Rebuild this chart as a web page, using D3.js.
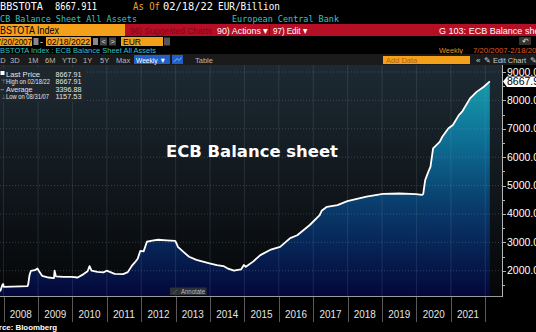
<!DOCTYPE html>
<html>
<head>
<meta charset="utf-8">
<script src="https://cdn.jsdelivr.net/npm/d3@7"></script>
<style>
body { margin: 0; background: #000; overflow: hidden; }
text { font-family: "Liberation Sans", Arial, sans-serif; }
</style>
</head>
<body>
<div id="chart"></div>
<script>
// weekly ECB balance sheet, EUR bn
const dates = [
  "2007-07-20", "2007-08-31", "2007-10-05", "2007-11-30", "2007-12-21", "2007-12-28",
  "2008-01-04", "2008-03-28", "2008-06-27", "2008-09-12", "2008-09-19", "2008-10-03", "2008-10-17", "2008-11-28", "2008-12-26",
  "2009-01-16", "2009-02-13", "2009-04-24", "2009-06-19", "2009-06-26", "2009-07-10", "2009-09-25", "2009-12-25",
  "2010-02-26", "2010-04-30", "2010-06-11", "2010-07-02", "2010-07-23", "2010-09-24", "2010-11-26", "2010-12-31",
  "2011-03-25", "2011-06-24", "2011-08-12", "2011-09-30", "2011-10-28", "2011-11-25", "2011-12-23",
  "2012-01-27", "2012-03-02", "2012-04-27", "2012-06-29", "2012-09-28", "2012-12-28",
  "2013-01-18", "2013-01-25", "2013-03-22", "2013-05-24", "2013-08-09", "2013-10-18", "2013-12-27",
  "2014-03-14", "2014-05-23", "2014-07-04", "2014-09-12", "2014-10-24", "2014-11-28", "2014-12-26",
  "2015-01-16", "2015-04-03", "2015-06-19", "2015-09-30",
  "2016-01-15", "2016-05-01", "2016-07-15", "2016-11-25",
  "2017-03-10", "2017-03-31", "2017-05-26", "2017-09-15", "2017-12-29",
  "2018-07-20", "2019-01-11", "2019-07-05", "2019-12-27",
  "2020-02-28", "2020-03-13", "2020-04-03", "2020-05-08", "2020-05-29", "2020-06-26", "2020-09-04", "2020-10-02", "2020-12-04",
  "2021-01-22", "2021-03-26", "2021-04-30", "2021-07-02", "2021-07-23", "2021-10-01", "2021-12-17",
  "2022-02-18"
]
const values = [
  1190, 1158, 1250, 1300, 1510, 1530,
  1430, 1440, 1450, 1460, 1520, 1850, 1990, 2020, 2080,
  1960, 1820, 1760, 1740, 2000, 1800, 1780, 1780,
  1760, 1880, 1980, 2160, 2000, 1960, 1940, 2000,
  1890, 1880, 1950, 2200, 2300, 2420, 2700,
  2680, 3020, 3060, 3090, 3070, 3050,
  2900, 2840, 2670, 2490, 2380, 2320, 2260,
  2200, 2165, 2085, 2000, 2030, 2050, 2200,
  2140, 2320, 2550, 2730,
  2840, 3150, 3250, 3610,
  3960, 4110, 4250, 4310, 4450,
  4610, 4710, 4720, 4700,
  4670, 4700, 5190, 5500, 5660, 6310, 6540, 6720, 7010,
  7130, 7480, 7600, 7950, 8070, 8300, 8480,
  8668
]
const yearLabels = ["2008", "2009", "2010", "2011", "2012", "2013", "2014", "2015", "2016", "2017", "2018", "2019", "2020", "2021"]
const yTicks = [2000, 3000, 4000, 5000, 6000, 7000, 8000, 9000]
const legendNames = ["Last Price", "High on 02/18/22", "Average", "Low on 08/31/07"]
const legendValues = ["8667.91", "8667.91", "3396.88", "1157.53"]
const lastPrice = 8667.91

const parse = d3.timeParse("%Y-%m-%d")
const data = dates.map((d, i) => ({ date: parse(d), value: values[i] }))

const svg = d3.select("#chart").append("svg").attr("width", 536).attr("height", 332)
const defs = svg.append("defs")

// plot background gradient
const bg = defs.append("linearGradient").attr("id", "bg").attr("gradientUnits", "userSpaceOnUse")
  .attr("x1", 0).attr("y1", 65).attr("x2", 0).attr("y2", 296)
bg.append("stop").attr("offset", 0).attr("stop-color", "#1d2a33")
bg.append("stop").attr("offset", 0.55).attr("stop-color", "#10161b")
bg.append("stop").attr("offset", 1).attr("stop-color", "#050607")

// area fill gradient
const fg = defs.append("linearGradient").attr("id", "fill").attr("gradientUnits", "userSpaceOnUse")
  .attr("x1", 0).attr("y1", 70).attr("x2", 0).attr("y2", 296)
fg.append("stop").attr("offset", 0).attr("stop-color", "#19a3b0")
fg.append("stop").attr("offset", 0.3).attr("stop-color", "#0e7196")
fg.append("stop").attr("offset", 0.6).attr("stop-color", "#093c6c")
fg.append("stop").attr("offset", 1).attr("stop-color", "#04073a")

defs.append("clipPath").attr("id", "plotclip").append("rect").attr("x", 0).attr("y", 65).attr("width", 502).attr("height", 231)

// helper for header text
function txt(x, y, s, fill, size, family, len, anchor) {
  const t = svg.append("text").attr("x", x).attr("y", y).text(s).attr("fill", fill)
    .style("font-size", size + "px").style("font-family", family || "'Liberation Sans', Arial, sans-serif")
  if (len) t.attr("textLength", len).attr("lengthAdjust", "spacingAndGlyphs")
  if (anchor) t.attr("text-anchor", anchor)
  return t
}
const mono = "'DejaVu Sans Mono', monospace"

// row 1
txt(0, 10, "BBSTOTA", "#fff", 10, mono, 43)
txt(55, 10, "8667.911", "#fff", 10, mono, 42)
txt(133, 10, "As Of", "#f0a030", 10, mono, 27)
txt(163, 10, "02/18/22", "#fff", 10, mono, 50)
txt(218, 10, "EUR/Billion", "#fff", 10, mono, 62)

// row 2
txt(-5, 22, "ECB Balance Sheet All Assets", "#35c3c6", 9, mono, 142)
txt(232, 22, "European Central Bank", "#35c3c6", 9, mono, 107)

// row 3: orange / red bar
svg.append("rect").attr("x", 0).attr("y", 24).attr("width", 125).attr("height", 12).attr("fill", "#f5a01a")
svg.append("rect").attr("x", 125).attr("y", 24).attr("width", 411).attr("height", 12).attr("fill", "#b50f26")
txt(0, 34, "BSTOTA Index", "#000", 11, null, 59)
txt(130, 33.5, "96) Suggested Charts", "#7c0815", 9, null, 82)
txt(217, 33.5, "90) Actions ▾", "#fff", 9.5, null, 51)
svg.append("rect").attr("x", 269).attr("y", 25).attr("width", 1).attr("height", 10).attr("fill", "#7c0815")
txt(273, 33.5, "97) Edit ▾", "#fff", 9.5, null, 34)
txt(439, 33.5, "G 103: ECB Balance sheet", "#fff", 9.5, null, 108)

// row 4: date inputs
svg.append("rect").attr("x", 0).attr("y", 37).attr("width", 32).attr("height", 9).attr("fill", "#f5a01a")
txt(32, 44.5, "07/20/2007", "#000", 8.5, null, 40, "end")
svg.append("rect").attr("x", 33.5).attr("y", 38).attr("width", 5).attr("height", 7).attr("fill", "#888")
txt(40, 44.5, "-", "#fff", 8.5)
svg.append("rect").attr("x", 46).attr("y", 37).attr("width", 45).attr("height", 9).attr("fill", "#f5a01a")
txt(47, 44.5, "02/18/2022", "#000", 8.5, null, 43)
svg.append("rect").attr("x", 93).attr("y", 38).attr("width", 5).attr("height", 7).attr("fill", "#888")
svg.append("rect").attr("x", 100).attr("y", 37.5).attr("width", 7).attr("height", 8).attr("fill", "#444")
txt(101.5, 44.3, "<", "#ddd", 7.5)
svg.append("rect").attr("x", 109).attr("y", 37.5).attr("width", 7).attr("height", 8).attr("fill", "#444")
txt(110.5, 44.3, ">", "#ddd", 7.5)
svg.append("rect").attr("x", 121).attr("y", 37).attr("width", 42).attr("height", 9).attr("fill", "#f5a01a")
txt(123, 44.5, "EUR", "#000", 8.5)
svg.append("rect").attr("x", 164).attr("y", 37.5).attr("width", 6).attr("height", 8).attr("fill", "#555")
svg.append("rect").attr("x", 519).attr("y", 37).attr("width", 12).attr("height", 8).attr("fill", "#333")
txt(521.5, 44, "↶", "#ddd", 8)

// row 5
txt(0, 52.5, "BSTOTA Index : ECB Balance Sheet All Assets", "#35c3c6", 8, null, 156)
txt(439, 52.5, "Weekly", "#e8901a", 8, null, 24)
txt(473, 52.5, "7/20/2007-2/18/2022", "#e2561f", 8, null, 72)

// row 6: toolbar
svg.append("rect").attr("x", 0).attr("y", 54).attr("width", 536).attr("height", 11).attr("fill", "#1b1b1b")
const btns = [["1D", -4], ["3D", 10], ["1M", 28], ["6M", 45], ["YTD", 62], ["1Y", 83], ["5Y", 100], ["Max", 116]]
btns.forEach(b => txt(b[1], 62.5, b[0], "#b8b8b8", 7.5))
svg.append("rect").attr("x", 134).attr("y", 55).attr("width", 36).attr("height", 9).attr("fill", "#1f5fc6")
txt(136, 62.5, "Weekly ▼", "#fff", 7.5, null, 30)
svg.append("rect").attr("x", 172).attr("y", 55).attr("width", 11).attr("height", 9).attr("fill", "#1f5fc6")
svg.append("path").attr("d", "M174,62 L177,58.5 L179,60.5 L181.5,57.5").attr("stroke", "#9fc3ff").attr("fill", "none").attr("stroke-width", 0.8)
txt(195, 62.5, "Table", "#b8b8b8", 7.5)
svg.append("rect").attr("x", 383).attr("y", 56).attr("width", 87).attr("height", 8).attr("fill", "#f5a01a")
txt(386, 62.5, "Add Data", "#b3650f", 7.5)
txt(476, 62.5, "«", "#ccc", 8)
txt(484, 62.5, "✎ Edit Chart", "#ccc", 7.5, null, 42)
txt(530, 62.5, "✎", "#ccc", 7.5)

// scales
const x = d3.scaleTime().domain([parse("2007-07-20"), parse("2022-02-18")]).range([-12, 489.8])
const y = d3.scaleLinear().domain([2000, 9000]).range([270.7, 72])

// plot background
svg.append("rect").attr("x", 0).attr("y", 65).attr("width", 502).attr("height", 231).attr("fill", "url(#bg)")

const plot = svg.append("g").attr("clip-path", "url(#plotclip)")

// area + line
plot.append("path").datum(data)
  .attr("d", d3.area().x(d => x(d.date)).y0(296).y1(d => y(d.value)))
  .attr("fill", "url(#fill)")

// gridlines
const years = d3.range(2008, 2023).map(yr => new Date(yr, 0, 1))
plot.selectAll(".vgrid").data(years).enter().append("line")
  .attr("x1", d => x(d)).attr("x2", d => x(d)).attr("y1", 65).attr("y2", 296)
  .attr("stroke", "#8fa5b5").attr("stroke-opacity", 0.16).attr("stroke-width", 1)
plot.selectAll(".hgrid").data(yTicks).enter().append("line")
  .attr("x1", 0).attr("x2", 502).attr("y1", d => y(d)).attr("y2", d => y(d))
  .attr("stroke", "#8fa5b5").attr("stroke-opacity", 0.3).attr("stroke-dasharray", "1,2")

plot.append("path").datum(data)
  .attr("d", d3.line().x(d => x(d.date)).y(d => y(d.value)))
  .attr("fill", "none").attr("stroke", "#fff").attr("stroke-width", 1.8).attr("stroke-linejoin", "round")

// legend box
const nameWidths = [34, 44, 26.5, 43]
svg.append("rect").attr("x", 0).attr("y", 67.5).attr("width", 85).attr("height", 34.5).attr("fill", "#20262c").attr("opacity", 0.95)
legendNames.forEach((n, i) => {
  const yy = 76.5 + i * 7.6
  txt(6, yy, n, "#e4e4e4", 6.8, null, nameWidths[i])
  txt(81.5, yy, legendValues[i], "#e4e4e4", 6.8, null, 26, "end")
})
svg.append("rect").attr("x", 0.5).attr("y", 71).attr("width", 4).attr("height", 4).attr("fill", "#fff")
txt(0.5, 84, "⊤", "#999", 6)
svg.append("line").attr("x1", 0.5).attr("x2", 4).attr("y1", 89.7).attr("y2", 89.7).attr("stroke", "#999").attr("stroke-width", 0.8)
txt(0.5, 99.3, "⊥", "#999", 6)

// chart title
txt(166, 157, "ECB Balance sheet", "#fff", 16.5, "'DejaVu Sans', Verdana, sans-serif", 172).style("font-weight", "bold")

// annotate button
svg.append("rect").attr("x", 170).attr("y", 287.5).attr("width", 36.5).attr("height", 7.5).attr("fill", "#2c3138")
txt(173, 293.5, "⟋", "#999", 6)
txt(181, 293.5, "Annotate", "#bbb", 6.5, null, 24)

// x axis
svg.append("line").attr("x1", 0).attr("x2", 502).attr("y1", 296.5).attr("y2", 296.5).attr("stroke", "#9a9a9a").attr("stroke-width", 1)
svg.selectAll(".xsep").data(years).enter().append("line")
  .attr("x1", d => Math.round(x(d)) + 0.5).attr("x2", d => Math.round(x(d)) + 0.5).attr("y1", 297).attr("y2", 322)
  .attr("stroke", "#5a5a5a").attr("stroke-width", 1)
svg.selectAll(".xlab").data(yearLabels).enter().append("text")
  .attr("x", d => x(new Date(+d, 6, 2))).attr("y", 318).attr("text-anchor", "middle")
  .attr("fill", "#e6e6e6").style("font-size", "11.5px").attr("textLength", 22).attr("lengthAdjust", "spacingAndGlyphs")
  .text(d => d)

// y axis
svg.append("line").attr("x1", 502.5).attr("x2", 502.5).attr("y1", 65).attr("y2", 297).attr("stroke", "#b5b5b5").attr("stroke-width", 1)
const minor = d3.range(1500, 9001, 500)
svg.selectAll(".ytick").data(minor).enter().append("line")
  .attr("x1", 503).attr("x2", d => d % 1000 === 0 ? 506 : 505)
  .attr("y1", d => Math.round(y(d)) + 0.5).attr("y2", d => Math.round(y(d)) + 0.5)
  .attr("stroke", "#b5b5b5").attr("stroke-width", 1)
svg.selectAll(".ylab").data(yTicks).enter().append("text")
  .attr("x", 507).attr("y", d => y(d) + 3.5).attr("fill", "#fff").style("font-size", "10.5px")
  .text(d => d3.format(".1f")(d))

// last price tag
const ly = y(lastPrice)
svg.append("path")
  .attr("d", `M503,${ly} L507,${ly - 5} L536,${ly - 5} L536,${ly + 5.5} L507,${ly + 5.5} Z`)
  .attr("fill", "#fff")
txt(507, ly + 4, "8667.91", "#000", 10.5)

// source
txt(57, 330, "Source: Bloomberg", "#fff", 7.5, null, 73, "end").style("font-weight", "bold")
</script>
</body>
</html>
